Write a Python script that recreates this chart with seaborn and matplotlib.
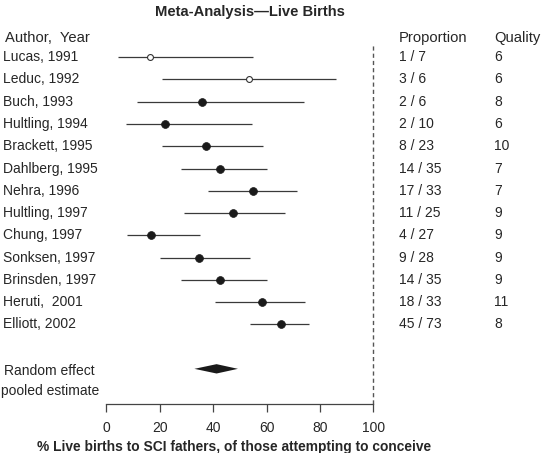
import numpy as np
import pandas as pd
import matplotlib
matplotlib.use('Agg')
import matplotlib.pyplot as plt
import seaborn as sns

# data
studies = ['Lucas, 1991', 'Leduc, 1992', 'Buch, 1993', 'Hultling, 1994',
           'Brackett, 1995', 'Dahlberg, 1995', 'Nehra, 1996', 'Hultling, 1997',
           'Chung, 1997', 'Sonksen, 1997', 'Brinsden, 1997', 'Heruti,  2001',
           'Elliott, 2002']
estimate = [16.5, 53.3, 36.0, 22.1, 37.5, 42.7, 55.1, 47.3, 16.7, 34.7, 42.7, 58.2, 65.4]
ci_low = [4.3, 20.7, 11.4, 7.3, 20.7, 28.0, 38.1, 29.0, 7.6, 20.2, 28.0, 40.8, 53.7]
ci_high = [54.8, 86.0, 74.0, 54.5, 58.8, 60.2, 71.5, 67.0, 35.1, 53.9, 60.2, 74.3, 76.0]
proportion = ['1 / 7', '3 / 6', '2 / 6', '2 / 10', '8 / 23', '14 / 35', '17 / 33',
              '11 / 25', '4 / 27', '9 / 28', '14 / 35', '18 / 33', '45 / 73']
quality = [6, 6, 8, 6, 10, 7, 7, 9, 9, 9, 9, 11, 8]
open_marker = [True, True, False, False, False, False, False, False, False,
               False, False, False, False]
pooled = (33.0, 41.3, 49.3)  # lower, estimate, upper
xticks = [0, 20, 40, 60, 80, 100]

sns.set_style('white')
plt.rcParams['font.family'] = ['Liberation Sans', 'DejaVu Sans']

df = pd.DataFrame({'study': studies, 'est': estimate, 'lo': ci_low, 'hi': ci_high,
                   'prop': proportion, 'quality': quality, 'open': open_marker})
df['row'] = np.arange(len(df))

fig = plt.figure(figsize=(5.42, 4.53), dpi=100)
ax = fig.add_axes([106.3 / 542, 49 / 453, 267 / 542, 359 / 453])

fs = 10
fs_head = 10.6
dark = '#262626'

ax.hlines(df['row'], df['lo'], df['hi'], color='#3a3a3a', lw=0.9, zorder=1)
sns.scatterplot(data=df[~df['open']], x='est', y='row', ax=ax, color='#1a1a1a',
                s=32, edgecolor='#1a1a1a', linewidth=0.5, zorder=3, legend=False)
sns.scatterplot(data=df[df['open']], x='est', y='row', ax=ax, color='white',
                s=18, edgecolor='#333333', linewidth=0.8, zorder=3, legend=False)

# pooled estimate diamond
prow = len(df) + 1
h = 0.21
ax.fill([pooled[0], pooled[1], pooled[2], pooled[1]],
        [prow, prow - h, prow, prow + h], color='#1a1a1a', lw=0)

ax.axvline(100, ls=(0, (3, 2.2)), color='#555555', lw=1.0, clip_on=False)

# text columns
for _, r in df.iterrows():
    ax.text(-38.7, r['row'], r['study'], ha='left', va='center', fontsize=fs,
            color=dark, clip_on=False)
    ax.text(109.7, r['row'], r['prop'], ha='left', va='center', fontsize=fs,
            color=dark, clip_on=False)
    ax.text(145.3, r['row'], str(r['quality']), ha='left', va='center', fontsize=fs,
            color=dark, clip_on=False)

ax.text(-37.9, -0.87, 'Author,  Year', ha='left', va='center', fontsize=fs_head, color=dark, clip_on=False)
ax.text(109.7, -0.87, 'Proportion', ha='left', va='center', fontsize=fs_head, color=dark, clip_on=False)
ax.text(145.3, -0.87, 'Quality', ha='left', va='center', fontsize=fs_head, color=dark, clip_on=False)
ax.text(-21.2, prow + 0.55, 'Random effect\npooled estimate', ha='center', va='center',
        fontsize=fs, color=dark, linespacing=1.6, clip_on=False)

ax.set_xlim(0, 100)
ax.set_ylim(15.58, -0.55)
ax.set_xticks(xticks)
ax.set_yticks([])
ax.set_ylabel('')
for s in ['top', 'right', 'left']:
    ax.spines[s].set_visible(False)
ax.spines['bottom'].set_color('#444444')
ax.spines['bottom'].set_linewidth(0.9)
ax.tick_params(axis='x', direction='out', length=5.5, width=0.9, color='#444444',
               labelsize=fs, labelcolor=dark, pad=6.5, bottom=True)
ax.set_xlabel('% Live births to SCI fathers, of those attempting to conceive',
              fontsize=9.9, fontweight='bold', color=dark, va='center')
ax.xaxis.set_label_coords(0.478, -0.121)

fig.text(250 / 542, 1 - 12 / 453, 'Meta-Analysis\u2014Live Births', ha='center', va='center',
         fontsize=10.6, fontweight='bold', color=dark)

fig.savefig('out.png', dpi=100)
